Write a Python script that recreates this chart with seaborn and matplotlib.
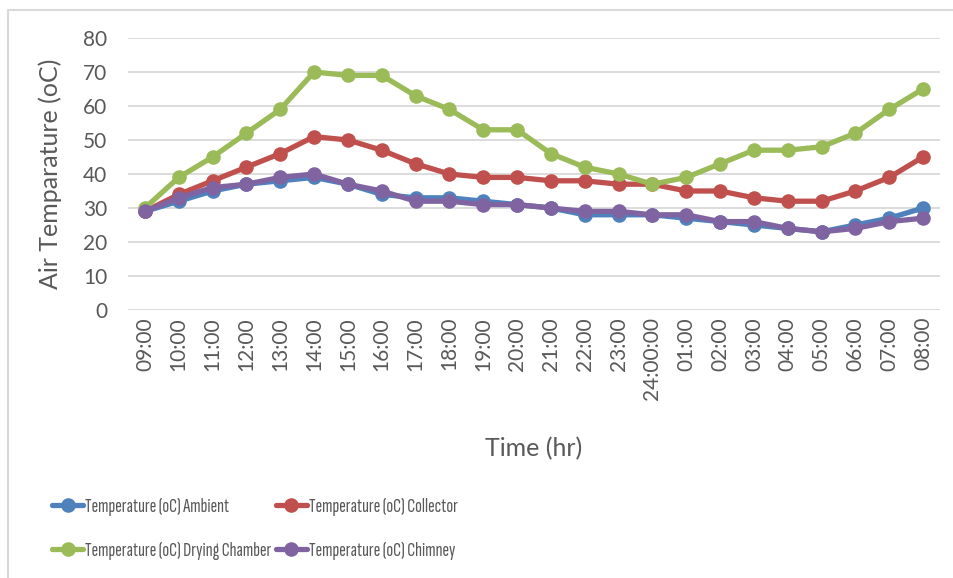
import matplotlib
matplotlib.use("Agg")
import matplotlib.pyplot as plt
from matplotlib.lines import Line2D
import pandas as pd
import seaborn as sns

times = ["09:00", "10:00", "11:00", "12:00", "13:00", "14:00", "15:00", "16:00",
         "17:00", "18:00", "19:00", "20:00", "21:00", "22:00", "23:00", "24:00:00",
         "01:00", "02:00", "03:00", "04:00", "05:00", "06:00", "07:00", "08:00"]

ambient = [29, 32, 35, 37, 38, 39, 37, 34, 33, 33, 32, 31, 30, 28, 28, 28,
           27, 26, 25, 24, 23, 25, 27, 30]
collector = [29, 34, 38, 42, 46, 51, 50, 47, 43, 40, 39, 39, 38, 38, 37, 37,
             35, 35, 33, 32, 32, 35, 39, 45]
drying_chamber = [30, 39, 45, 52, 59, 70, 69, 69, 63, 59, 53, 53, 46, 42, 40, 37,
                  39, 43, 47, 47, 48, 52, 59, 65]
chimney = [29, 33, 36, 37, 39, 40, 37, 35, 32, 32, 31, 31, 30, 29, 29, 28,
           28, 26, 26, 24, 23, 24, 26, 27]

series_names = ["Temperature (oC) Ambient", "Temperature (oC) Collector",
                "Temperature (oC) Drying Chamber", "Temperature (oC) Chimney"]
series_values = [ambient, collector, drying_chamber, chimney]
colors = ["#4F81BD", "#C0504D", "#9BBB59", "#8064A2"]

rows = []
for name, vals in zip(series_names, series_values):
    for t, v in zip(times, vals):
        rows.append({"Time": t, "Temperature": v, "Series": name})
df = pd.DataFrame(rows)

sns.set_style("white")
plt.rcParams["font.family"] = ["Lato", "DejaVu Sans"]
text_color = "#595959"
grid_color = "#D9D9D9"

W, H = 954, 578
fig = plt.figure(figsize=(W / 100, H / 100), dpi=100)

# outer chart frame (top and left edges visible)
fig.add_artist(Line2D([8 / W, 1.0], [1 - 10 / H, 1 - 10 / H],
                      transform=fig.transFigure, color=grid_color, lw=1.5))
fig.add_artist(Line2D([8 / W, 8 / W], [0.0, 1 - 10 / H],
                      transform=fig.transFigure, color=grid_color, lw=1.5))

left, right, top, bottom = 128, 940, 38, 310
ax = fig.add_axes([left / W, 1 - bottom / H, (right - left) / W, (bottom - top) / H])

sns.lineplot(data=df, x="Time", y="Temperature", hue="Series", hue_order=series_names,
             palette=colors, sort=False, marker="o", markersize=10.5,
             markeredgewidth=0, linewidth=3.8, ax=ax, legend=False, zorder=3)

ax.set_xlim(-0.5, len(times) - 0.5)
ax.set_ylim(0, 80)
ax.set_yticks(range(0, 81, 10))
ax.set_xticks(range(len(times)))
ax.set_xticklabels(times, rotation=90, va="top")
ax.grid(axis="y", color=grid_color, linewidth=1.3, zorder=0)
ax.grid(axis="x", visible=False)
for s in ax.spines.values():
    s.set_visible(False)
ax.tick_params(axis="both", length=0, labelsize=15, colors=text_color)
ax.tick_params(axis="y", pad=15)
ax.tick_params(axis="x", pad=5)

ax.set_xlabel("Time (hr)", fontsize=18, color=text_color)
ax.set_ylabel("Air Temparature (oC)", fontsize=18, color=text_color)
ax.xaxis.set_label_coords(0.5, (bottom - 437) / (bottom - top))
ax.yaxis.set_label_coords((62 - left) / (right - left), 0.5)

handles = [Line2D([0], [0], color=c, lw=3.8, marker="o", markersize=10.5,
                  markeredgewidth=0) for c in colors]
order = [0, 2, 1, 3]
leg = fig.legend([handles[i] for i in order], [series_names[i] for i in order],
                 ncol=2, loc="upper left", bbox_to_anchor=(52 / W, 1 - 498 / H),
                 frameon=False, borderpad=0, borderaxespad=0,
                 prop={"family": ["Sofia Sans Extra Condensed", "Lato"], "size": 14.5},
                 handlelength=1.55, handletextpad=0.1,
                 columnspacing=0.2, labelspacing=1.25)
for t in leg.get_texts():
    t.set_color(text_color)

fig.savefig("out.png", dpi=100)
